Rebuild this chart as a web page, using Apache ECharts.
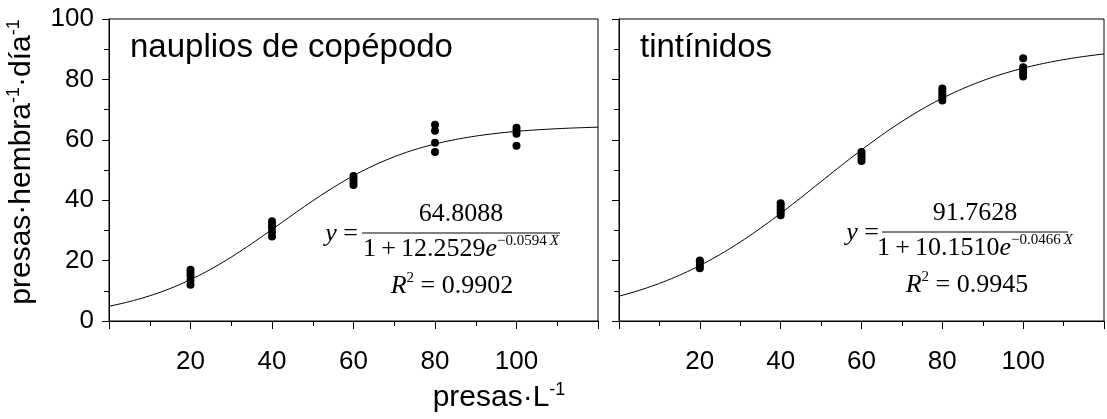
<!DOCTYPE html>
<html>
<head>
<meta charset="utf-8">
<script src="https://cdn.jsdelivr.net/npm/echarts@6/dist/echarts.min.js"></script>
<style>
  html, body { margin: 0; padding: 0; background: #fff; }
  #chart { width: 1107px; height: 419px; }
</style>
</head>
<body>
<div id="chart"></div>
<script>
// Prey concentrations offered (presas·L-1)
const presas = [20, 40, 60, 80, 100];

// Ingestion per female per day, replicate measurements at each concentration
const naupliosIngest = [
  [12, 13.5, 15, 16, 17],
  [28, 29.5, 31, 32, 33],
  [45, 46, 47, 48],
  [56, 59, 63, 65],
  [58, 62, 63, 64]
];
const tintinidosIngest = [
  [17.5, 18.5, 19.5, 20],
  [35, 36, 37, 38, 39],
  [53, 54, 55, 56],
  [73, 74, 75, 76, 77],
  [81, 82, 83, 84, 87]
];

// Logistic fits y = a / (1 + b·e^(-c·X)) and their R²
const naupliosFit = [64.8088, 12.2529, 0.0594];
const tintinidosFit = [91.7628, 10.1510, 0.0466];
const naupliosR2 = '0.9902';
const tintinidosR2 = '0.9945';

// Axis ranges and tick labels
const xRange = [0, 120];
const yRange = [0, 100];
const xTickLabels = [20, 40, 60, 80, 100];

const panelTitles = ['nauplios de copépodo', 'tintínidos'];

function points(groups) {
  const out = [];
  groups.forEach((vals, i) => vals.forEach(v => out.push([presas[i], v])));
  return out;
}
function fitCurve(p) {
  const out = [];
  for (let x = xRange[0]; x <= xRange[1]; x += 1) {
    out.push([x, p[0] / (1 + p[1] * Math.exp(-p[2] * x))]);
  }
  return out;
}

const SANS = 'Liberation Sans, Arial, sans-serif';
const SERIF = 'Liberation Serif, Times New Roman, serif';

function xAxis(gi) {
  return {
    type: 'value', gridIndex: gi, min: xRange[0], max: xRange[1], interval: 20,
    axisLine: { lineStyle: { color: '#000', width: 1 } },
    axisTick: { show: true, length: 8, lineStyle: { color: '#000' } },
    minorTick: { show: true, splitNumber: 2, length: 5, lineStyle: { color: '#000' } },
    splitLine: { show: false },
    axisLabel: {
      margin: 28, color: '#000', fontFamily: SANS, fontSize: 26,
      formatter: v => xTickLabels.indexOf(v) >= 0 ? String(v) : ''
    }
  };
}
function yAxis(gi, labels) {
  return {
    type: 'value', gridIndex: gi, min: yRange[0], max: yRange[1], interval: 20,
    axisLine: { show: true, lineStyle: { color: '#000', width: 1 } },
    axisTick: { show: true, length: 7, lineStyle: { color: '#000' } },
    minorTick: { show: true, splitNumber: 2, length: 5, lineStyle: { color: '#000' } },
    splitLine: { show: false },
    axisLabel: { show: labels, margin: 15, color: '#000', fontFamily: SANS, fontSize: 26 }
  };
}

function equation(cx, lineY, lineX0, lineX1, eqX, p, r2, r2x) {
  const supStyle = { fontFamily: SERIF, fontSize: 15, lineHeight: 14, verticalAlign: 'top', fill: '#000' };
  return [
    { type: 'text', x: eqX, y: lineY + 1,
      style: { text: '{i|y} =', align: 'right', verticalAlign: 'middle', fill: '#000',
        font: '26px ' + SERIF,
        rich: { i: { fontFamily: SERIF, fontSize: 26, fontStyle: 'italic' } } } },
    { type: 'line', shape: { x1: lineX0, y1: lineY, x2: lineX1, y2: lineY },
      style: { stroke: '#000', lineWidth: 1.2 } },
    { type: 'text', x: cx, y: lineY - 19,
      style: { text: p[0].toFixed(4), align: 'center', verticalAlign: 'middle', fill: '#000',
        font: '26px ' + SERIF } },
    { type: 'text', x: cx, y: lineY + 16,
      style: {
        text: '{n|1\u2009+\u2009' + p[1].toFixed(4) + '}{i|e}{s|\u2212' + p[2].toFixed(4) + '}{si|\u2009X}',
        align: 'center', verticalAlign: 'middle', fill: '#000',
        rich: {
          n: { fontFamily: SERIF, fontSize: 26, lineHeight: 30, fill: '#000' },
          i: { fontFamily: SERIF, fontSize: 26, lineHeight: 30, fontStyle: 'italic', fill: '#000' },
          s: supStyle,
          si: Object.assign({}, supStyle, { fontStyle: 'italic' })
        }
      } },
    { type: 'text', x: r2x, y: lineY + 53,
      style: {
        text: '{i|R}{s|2} = ' + r2, align: 'center', verticalAlign: 'middle', fill: '#000',
        font: '26px ' + SERIF,
        rich: {
          i: { fontFamily: SERIF, fontSize: 26, lineHeight: 30, fontStyle: 'italic', fill: '#000' },
          s: supStyle
        }
      } }
  ];
}

const chart = echarts.init(document.getElementById('chart'));
const sup = { fontFamily: SANS, fontSize: 18, lineHeight: 16, verticalAlign: 'top', fill: '#000' };
const base = { fontFamily: SANS, fontSize: 30, lineHeight: 34, fill: '#000' };

chart.setOption({
  animation: false,
  backgroundColor: '#fff',
  grid: [
    { left: 109, top: 19, width: 489, height: 302, show: true, borderColor: '#000', borderWidth: 1 },
    { left: 619, top: 19, width: 492, height: 302, show: true, borderColor: '#000', borderWidth: 1 }
  ],
  xAxis: [xAxis(0), xAxis(1)],
  yAxis: [yAxis(0, true), yAxis(1, false)],
  series: [
    { type: 'line', xAxisIndex: 0, yAxisIndex: 0, data: fitCurve(naupliosFit), showSymbol: false,
      lineStyle: { color: '#000', width: 1 }, silent: true },
    { type: 'scatter', xAxisIndex: 0, yAxisIndex: 0, data: points(naupliosIngest), symbolSize: 8,
      itemStyle: { color: '#000', opacity: 1 } },
    { type: 'line', xAxisIndex: 1, yAxisIndex: 1, data: fitCurve(tintinidosFit), showSymbol: false,
      lineStyle: { color: '#000', width: 1 }, silent: true },
    { type: 'scatter', xAxisIndex: 1, yAxisIndex: 1, data: points(tintinidosIngest), symbolSize: 8,
      itemStyle: { color: '#000', opacity: 1 } }
  ],
  graphic: [
    { type: 'text', x: 130, y: 48,
      style: { text: panelTitles[0], verticalAlign: 'middle', fill: '#000', font: '33px ' + SANS } },
    { type: 'text', x: 640, y: 48,
      style: { text: panelTitles[1], verticalAlign: 'middle', fill: '#000', font: '33px ' + SANS } },
    { type: 'text', x: 499, y: 398,
      style: { text: '{b|presas·L}{s|-1}', align: 'center', verticalAlign: 'middle',
        rich: { b: base, s: sup } } },
    { type: 'text', x: 22, y: 162, rotation: Math.PI / 2,
      style: { text: '{b|presas·hembra}{s|-1}{b|·día}{s|-1}', align: 'center', verticalAlign: 'middle',
        rich: { b: base, s: sup } } }
  ].concat(
    equation(461, 233, 362, 560, 358, naupliosFit, naupliosR2, 452),
    equation(975, 232, 882, 1068, 879, tintinidosFit, tintinidosR2, 967)
  )
});
</script>
</body>
</html>
